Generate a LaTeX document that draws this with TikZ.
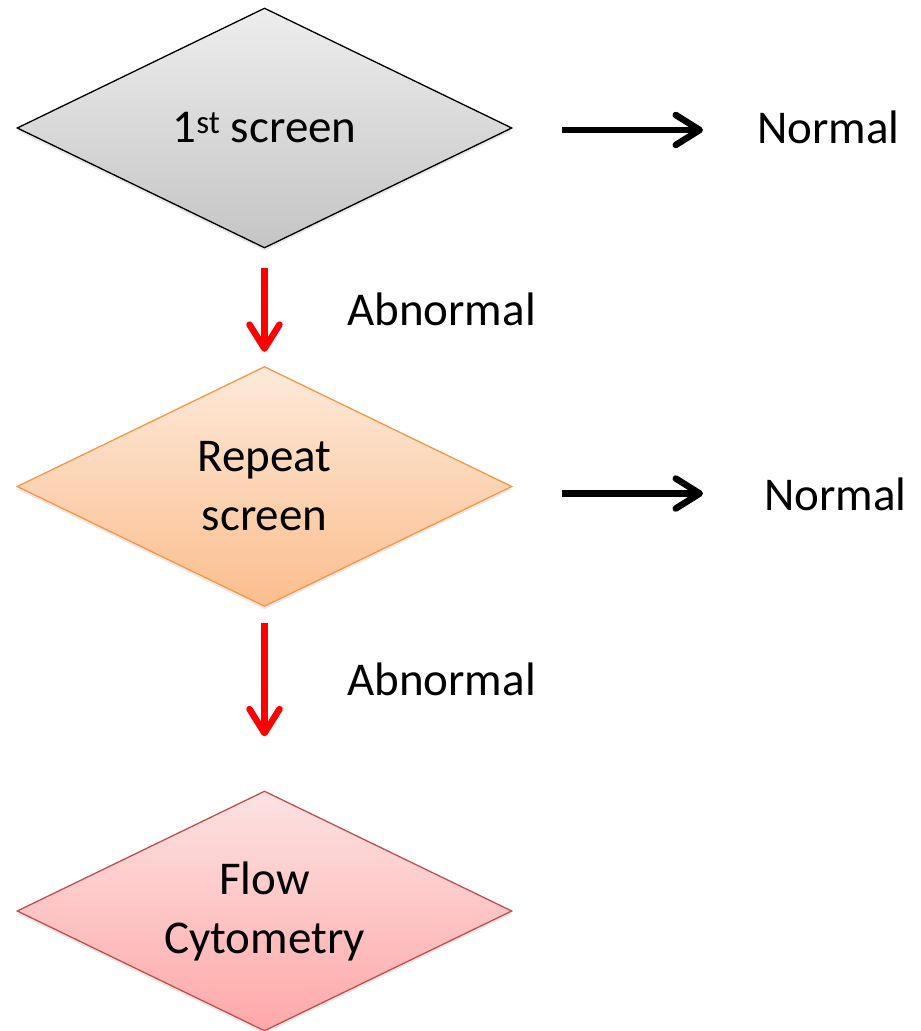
\documentclass[tikz,border=0pt]{standalone}
\usepackage{fontspec}
\setmainfont{Carlito}
\usetikzlibrary{shapes.geometric,arrows.meta,shadows}
\tikzset{
  dmd/.style={diamond, draw, line width=1.3pt, inner sep=0pt, minimum width=495pt, minimum height=240pt, aspect=2.06, align=center, font=\fontsize{47}{59}\selectfont, drop shadow={opacity=0.18, shadow xshift=0pt, shadow yshift=-3pt}},
  lbl/.style={font=\fontsize{47}{59}\selectfont, inner sep=0pt},
  arr/.style={line width=6.5pt, -{Straight Barb[length=24pt, width=30pt, line cap=round, line join=round]}},
}
\begin{document}
\begin{tikzpicture}[x=1pt,y=-1pt]
\useasboundingbox (0,0) rectangle (921,1031);
\node[dmd, draw=black, top color=black!7, bottom color=black!23] (d1) at (264.5,128) {1\textsuperscript{st} screen};
\node[dmd, draw={rgb,255:red,247;green,150;blue,70}, top color={rgb,255:red,253;green,234;blue,218}, bottom color={rgb,255:red,251;green,190;blue,141}] (d2) at (264.5,486.5) {Repeat\\screen};
\node[dmd, draw={rgb,255:red,192;green,80;blue,77}, top color={rgb,255:red,253;green,226;blue,226}, bottom color={rgb,255:red,255;green,168;blue,168}] (d3) at (264.5,911) {Flow\\Cytometry};
\node[lbl, anchor=base west] (n1) at (757,143) {Normal};
\node[lbl, anchor=base west] (n2) at (764,510) {Normal};
\node[lbl, anchor=base west] (a1) at (347,325) {Abnormal};
\node[lbl, anchor=base west] (a2) at (347,695) {Abnormal};
\coordinate (s1) at ([xshift=49pt,yshift=-2pt]d1.east);
\coordinate (e1) at ([xshift=-54pt]n1.west);
\coordinate (s2) at ([xshift=49pt,yshift=-7pt]d2.east);
\coordinate (e2) at ([xshift=-61pt]n2.west);
\draw[arr, black] (s1) -- (e1 |- s1);
\draw[arr, black] (s2) -- (e2 |- s2);
\draw[arr, red] ([yshift=-19pt]d1.south) -- ([yshift=14pt]d2.north);
\draw[arr, red] ([yshift=-16pt]d2.south) -- ([yshift=54pt]d3.north);
\end{tikzpicture}
\end{document}
